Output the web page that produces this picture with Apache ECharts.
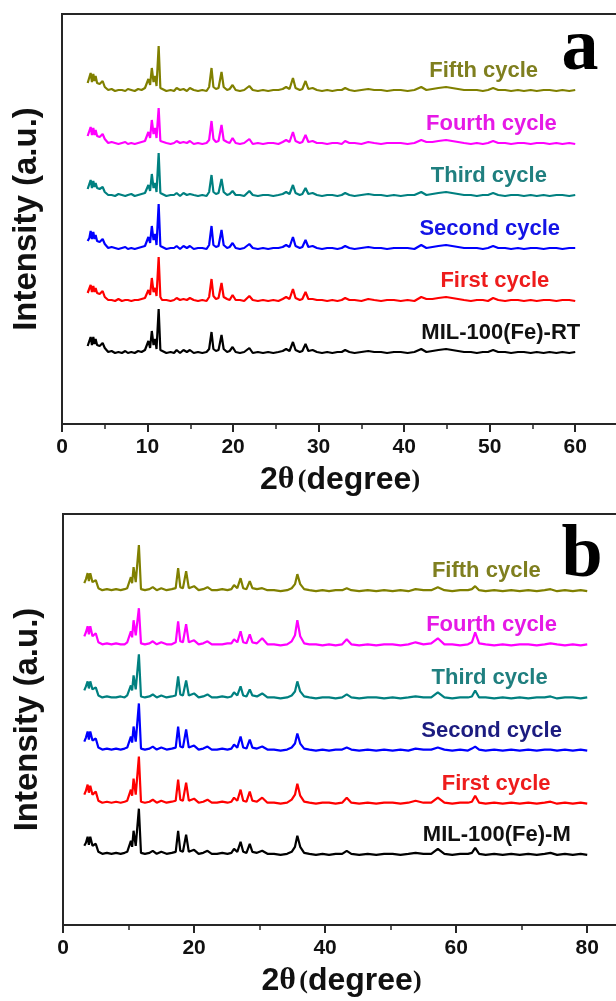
<!DOCTYPE html>
<html>
<head>
<meta charset="utf-8">
<script src="https://cdn.jsdelivr.net/npm/echarts@6/dist/echarts.min.js"></script>
<style>
  html, body { margin: 0; padding: 0; background: #fff; }
  #chart { width: 616px; height: 1001px; }
</style>
</head>
<body>
<div id="chart"></div>
<script>
// ---- Panel a: MIL-100(Fe)-RT, 2θ positions (degree) ----
const twoThetaA = [
  3.0,3.2,3.35,3.5,3.66,3.8,3.93,4.1,4.4,4.75,
  5.0,5.4,5.8,6.2,6.6,7.0,7.4,7.7,8.1,8.5,
  8.9,9.3,9.7,10.1,10.3,10.5,10.7,10.9,11.05,11.3,
  11.5,11.7,12.2,12.7,13.1,13.4,13.8,14.2,14.6,14.95,
  15.4,15.9,16.4,16.9,17.2,17.48,17.7,18.0,18.3,18.65,
  18.9,19.3,19.6,19.94,20.3,20.8,21.3,21.9,22.3,22.9,
  23.5,24.1,24.7,25.3,25.8,26.2,26.6,27.0,27.3,27.8,
  28.1,28.47,28.8,29.3,29.8,30.4,31.0,31.6,32.2,32.7,
  33.1,33.6,34.2,35.0,35.8,36.5,37.3,38.0,38.8,39.6,
  40.4,41.2,42.0,42.6,43.3,44.0,44.9,45.6,46.3,47.0,
  47.8,48.5,49.2,49.8,50.4,51.0,51.8,52.5,53.3,54.0,
  54.8,55.5,56.3,57.0,57.8,58.5,59.3,60.0
];
// Intensities (a.u., above each pattern's own baseline)
const rtFresh = [
  7,9,16,8,16,9,14,8,7,10,
  5,1,2,0,1,0,2,0,1,0,
  2,1,3,12,5,22,8,14,4,44,
  3,1,0,1,0,3,0,3,1,3,
  0,1,0,1,4,21,4,2,3,18,
  4,1,2,6,1,0,1,5,0,1,
  0,1,0,1,2,4,2,11,3,1,
  2,9,2,3,1,0,1,0,1,1,
  3,1,0,1,2,1,1,0,1,1,
  0,1,4,1,2,3,4,3,2,1,
  1,0,1,1,3,1,1,0,1,1,
  0,1,0,1,0,1,0,1
];
const rtCycle1 = [
  8,10,16,9,15,9,13,8,7,10,
  4,1,1,0,2,0,1,1,0,1,
  1,2,3,11,6,23,9,13,5,44,
  4,1,1,0,1,3,1,2,1,3,
  1,0,1,0,4,22,5,2,3,18,
  4,2,1,6,1,1,0,5,1,0,
  1,0,1,0,2,4,2,12,3,1,
  2,9,2,2,1,1,0,1,0,1,
  3,1,1,0,2,1,0,1,1,0,
  1,0,4,2,2,3,4,3,2,1,
  0,1,1,0,3,1,0,1,1,0,
  1,0,1,1,0,1,1,0
];
const rtCycle2 = [
  8,11,18,10,17,10,14,8,7,10,
  5,1,2,1,0,1,2,0,1,0,
  1,2,3,12,6,23,9,15,4,45,
  3,1,0,1,1,3,0,3,1,3,
  0,1,1,0,4,23,4,2,3,19,
  4,1,2,6,1,0,1,5,1,0,
  1,0,1,1,2,4,2,12,3,1,
  2,9,2,3,1,0,1,1,0,1,
  3,1,0,1,2,1,1,0,1,1,
  1,0,4,1,2,3,4,3,2,1,
  1,1,0,1,3,1,1,0,1,0,
  1,1,0,1,1,0,1,1
];
const rtCycle3 = [
  7,9,16,8,15,9,13,8,7,9,
  4,1,1,0,2,1,0,1,2,0,
  1,2,3,11,5,22,8,13,4,43,
  3,1,0,1,1,3,0,3,1,2,
  1,0,1,0,4,21,4,2,3,17,
  4,1,2,5,1,1,0,5,1,0,
  1,1,0,1,2,4,2,11,3,1,
  2,8,2,3,1,0,1,1,0,1,
  3,1,0,1,2,1,1,0,1,0,
  1,1,4,1,2,3,4,3,2,1,
  1,0,1,1,3,1,0,1,1,0,
  1,0,1,0,1,1,0,1
];
const rtCycle4 = [
  8,10,17,9,16,9,14,8,7,10,
  5,1,2,1,0,1,2,0,1,0,
  1,2,3,12,6,24,10,16,6,36,
  3,1,1,0,1,3,1,2,1,3,
  0,1,0,1,4,23,5,2,3,19,
  4,2,1,6,1,0,1,5,0,1,
  0,1,1,0,2,4,2,12,3,1,
  2,9,2,3,1,1,0,1,1,0,
  3,1,1,0,2,1,0,1,1,1,
  0,1,4,2,2,3,4,3,2,1,
  0,1,0,1,3,1,1,0,1,1,
  0,1,1,0,1,0,1,0
];
const rtCycle5 = [
  8,10,18,9,17,10,15,8,7,10,
  4,1,2,0,1,1,0,2,1,0,
  2,1,3,12,6,23,9,15,5,45,
  3,1,0,1,0,3,1,2,0,3,
  1,0,1,0,4,23,4,2,3,19,
  4,1,2,6,1,0,1,5,1,0,
  1,0,1,1,2,4,2,13,3,1,
  2,10,2,3,1,0,1,0,1,1,
  3,1,0,1,2,1,1,0,1,1,
  0,1,4,1,2,3,4,3,2,1,
  1,1,0,1,3,1,1,0,1,0,
  1,0,1,1,0,1,0,1
];

// ---- Panel b: MIL-100(Fe)-M, 2θ positions (degree) ----
const twoThetaB = [
  3.25,3.5,3.76,3.95,4.16,4.5,5.0,5.4,6.0,6.7,
  7.4,8.1,8.8,9.4,9.8,10.36,10.55,10.77,11.1,11.58,
  11.9,12.5,13.2,13.7,14.3,15.0,15.8,16.6,17.2,17.57,
  17.9,18.3,18.79,19.2,20.0,20.7,21.4,22.05,22.7,23.5,
  24.3,25.1,25.7,26.1,26.6,27.1,27.5,28.0,28.5,28.9,
  29.6,30.4,31.2,32.2,33.2,34.2,34.9,35.4,35.76,36.2,
  36.8,37.6,38.6,39.6,40.6,41.6,42.6,43.3,44.0,45.2,
  46.5,47.8,49.0,50.3,51.5,52.7,53.8,55.0,56.2,57.2,
  58.2,59.4,60.6,61.8,62.4,62.9,63.5,64.5,65.8,67.1,
  68.4,69.7,71.0,72.3,73.5,74.4,75.4,76.6,77.8,79.0,
  80.0
];
const mFresh = [
  9,12,18,10,18,9,11,3,1,2,
  1,2,1,2,3,14,8,24,9,46,
  2,1,2,4,1,3,1,2,3,24,
  4,3,20,3,5,1,2,4,1,1,
  2,1,2,6,3,13,3,2,11,3,
  2,4,1,1,0,1,3,8,19,8,
  2,1,0,1,0,1,1,4,1,0,
  1,0,1,1,0,1,2,1,1,6,
  1,0,1,1,2,7,1,0,1,0,
  1,0,1,0,1,2,0,1,0,1,
  0
];
const mCycle1 = [
  9,13,19,11,18,9,12,3,1,2,
  1,2,1,2,3,14,8,25,9,47,
  2,1,2,4,1,3,1,2,3,24,
  4,3,21,3,5,1,2,4,1,1,
  2,1,2,6,3,14,3,2,12,3,
  2,6,1,1,0,1,4,9,20,8,
  2,1,0,1,1,0,1,6,1,0,
  1,0,1,1,0,1,3,1,1,6,
  1,0,1,1,2,8,1,0,1,0,
  1,0,1,0,1,2,0,1,0,1,
  0
];
const mCycle2 = [
  9,13,19,11,19,10,12,3,1,2,
  1,2,1,2,3,14,8,24,9,47,
  2,1,2,4,1,3,1,2,3,24,
  4,3,21,3,5,1,2,4,1,1,
  2,1,2,6,3,14,3,2,11,3,
  2,4,1,1,0,1,3,7,17,7,
  2,1,0,1,0,1,1,3,1,0,
  1,0,1,0,1,0,2,1,1,3,
  1,0,1,0,2,4,1,0,1,0,
  1,0,1,0,1,1,0,1,0,1,
  0
];
const mCycle3 = [
  8,12,17,10,17,9,11,3,1,2,
  1,1,2,1,3,13,8,23,9,44,
  2,1,2,4,1,3,1,2,3,22,
  4,3,18,3,5,1,2,4,1,1,
  2,1,2,6,3,12,3,2,9,3,
  2,5,1,1,0,1,3,7,17,7,
  2,1,0,1,1,0,1,4,1,0,
  1,1,0,1,0,1,2,1,1,6,
  1,0,1,1,2,8,1,1,0,1,
  0,1,0,1,1,2,0,1,1,0,
  1
];
const mCycle4 = [
  9,13,19,11,19,9,12,3,1,2,
  1,2,1,1,3,14,8,25,10,37,
  2,1,2,4,1,3,1,1,3,24,
  4,3,21,3,5,1,2,4,1,1,
  1,2,2,6,3,14,3,2,11,3,
  2,7,1,1,0,1,4,10,25,9,
  2,1,1,0,1,0,1,6,1,0,
  1,0,1,1,0,1,3,1,2,7,
  1,1,0,1,3,13,2,1,0,1,
  0,1,1,0,1,2,1,0,1,0,
  1
];
const mCycle5 = [
  8,12,18,10,18,9,11,3,1,2,
  1,2,1,2,3,14,8,24,9,46,
  2,1,2,4,1,3,1,2,3,23,
  4,3,20,3,5,1,2,4,1,1,
  2,1,2,6,3,13,3,2,10,3,
  2,3,1,1,0,1,3,7,17,7,
  2,1,0,1,0,1,1,3,1,0,
  1,0,1,0,1,0,2,1,1,4,
  1,0,1,1,2,5,1,0,1,0,
  1,0,1,0,1,2,0,1,0,1,
  0
];

// Trace names, bottom to top
const namesA = ['MIL-100(Fe)-RT', 'First cycle', 'Second cycle', 'Third cycle', 'Fourth cycle', 'Fifth cycle'];
const namesB = ['MIL-100(Fe)-M', 'First cycle', 'Second cycle', 'Third cycle', 'Fourth cycle', 'Fifth cycle'];
// Vertical stacking offsets (a.u.)
const offsetsA = [71, 123, 175, 228, 280, 333];
const offsetsB = [70, 121, 174, 226, 279, 333];

// ---- styling / layout ----
const lineColors = ['#000000', '#ff0000', '#0000ff', '#008080', '#ff00ff', '#808000'];
const labelColorsA = ['#111111', '#ee1c1c', '#1414e6', '#1f7f7f', '#e619e6', '#7f7f1f'];
const labelColorsB = ['#111111', '#ee1c1c', '#1c1c80', '#1f7f7f', '#e619e6', '#7f7f1f'];
const labelXA = [51.3, 50.6, 50.0, 49.9, 50.2, 49.3];
const labelXB = [66.2, 66.1, 65.4, 65.1, 65.4, 64.6];
const LABEL_RISE = 20;

const patternsA = [rtFresh, rtCycle1, rtCycle2, rtCycle3, rtCycle4, rtCycle5];
const patternsB = [mFresh, mCycle1, mCycle2, mCycle3, mCycle4, mCycle5];

const AXIS_COLOR = '#262626';
const SANS = "'Liberation Sans', Arial, sans-serif";
const SERIF = "'Liberation Serif', 'Times New Roman', serif";

function makeSeries(gridIdx, xs, patterns, offsets, names, labelX, labelColors) {
  return patterns.map((p, k) => ({
    type: 'line',
    xAxisIndex: gridIdx,
    yAxisIndex: gridIdx,
    name: names[k],
    showSymbol: false,
    symbol: 'none',
    animation: false,
    lineStyle: { width: 2.2, color: lineColors[k] },
    data: xs.map((x, i) => [x, offsets[k] + p[i]]),
    markPoint: {
      symbol: 'rect',
      symbolSize: 1,
      itemStyle: { color: 'rgba(0,0,0,0)' },
      animation: false,
      data: [{ coord: [labelX[k], offsets[k] + LABEL_RISE], value: names[k] }],
      label: {
        show: true,
        position: 'inside',
        formatter: names[k],
        color: labelColors[k],
        fontSize: 22,
        fontWeight: 'bold',
        fontFamily: SANS
      }
    }
  }));
}

function makeXAxis(gridIdx, max, interval, lastLabel) {
  return {
    gridIndex: gridIdx,
    type: 'value',
    min: 0,
    max: max,
    interval: interval,
    axisLine: { show: true, onZero: false, lineStyle: { color: AXIS_COLOR, width: 2 } },
    axisTick: { show: true, length: 8, lineStyle: { color: AXIS_COLOR, width: 2 } },
    minorTick: { show: true, splitNumber: 2, length: 5, lineStyle: { color: AXIS_COLOR, width: 1.5 } },
    splitLine: { show: false },
    axisLabel: {
      formatter: v => (v <= lastLabel && v % interval === 0 ? String(v) : ''),
      fontSize: 21, fontWeight: 'bold', color: '#111', fontFamily: SANS, margin: 13
    },
    name: '{n|2}{t|θ} {p|(}{d|degree}{p|)}',
    nameLocation: 'middle',
    nameGap: 40,
    nameTextStyle: {
      rich: {
        n: { fontSize: 32, fontWeight: 'bold', fontFamily: SANS, color: '#111' },
        t: { fontSize: 32, fontWeight: 'bold', fontFamily: SERIF, color: '#111' },
        p: { fontSize: 26, fontWeight: 'bold', fontFamily: SERIF, color: '#111' },
        d: { fontSize: 32, fontWeight: 'bold', fontFamily: SANS, color: '#111' }
      }
    }
  };
}

function makeYAxis(gridIdx) {
  return {
    gridIndex: gridIdx,
    type: 'value',
    min: 0,
    max: 410,
    axisLine: { show: true, lineStyle: { color: AXIS_COLOR, width: 2 } },
    axisTick: { show: false },
    axisLabel: { show: false },
    splitLine: { show: false },
    name: 'Intensity (a.u.)',
    nameLocation: 'middle',
    nameRotate: 90,
    nameGap: 19,
    nameTextStyle: { fontSize: 33, fontWeight: 'bold', fontFamily: SANS, color: '#111' }
  };
}

const chart = echarts.init(document.getElementById('chart'), null, { renderer: 'canvas', width: 616, height: 1001 });

chart.setOption({
  backgroundColor: '#ffffff',
  animation: false,
  grid: [
    { left: 62, top: 14, width: 556, height: 410, outerBoundsMode: 'none', containLabel: false,
      show: true, borderColor: AXIS_COLOR, borderWidth: 2, backgroundColor: 'transparent' },
    { left: 63, top: 514, width: 557, height: 411, outerBoundsMode: 'none', containLabel: false,
      show: true, borderColor: AXIS_COLOR, borderWidth: 2, backgroundColor: 'transparent' }
  ],
  xAxis: [makeXAxis(0, 65, 10, 60), makeXAxis(1, 85, 20, 80)],
  yAxis: [makeYAxis(0), makeYAxis(1)],
  series: [
    ...makeSeries(0, twoThetaA, patternsA, offsetsA, namesA, labelXA, labelColorsA),
    ...makeSeries(1, twoThetaB, patternsB, offsetsB, namesB, labelXB, labelColorsB)
  ],
  graphic: [
    { type: 'text', x: 580, y: 50, style: { text: 'a', font: "bold 74px " + SERIF, fill: '#000', textAlign: 'center', textVerticalAlign: 'middle' } },
    { type: 'text', x: 582, y: 557, style: { text: 'b', font: "bold 74px " + SERIF, fill: '#000', textAlign: 'center', textVerticalAlign: 'middle' } }
  ]
});
</script>
</body>
</html>
